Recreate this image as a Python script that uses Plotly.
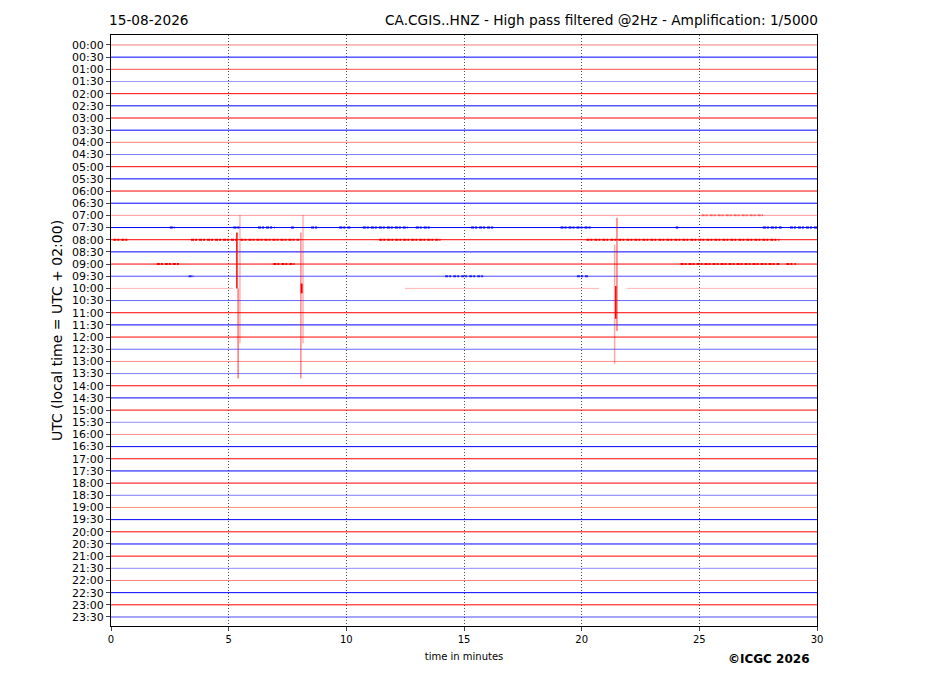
import plotly.graph_objects as go

# etiquetes de files (cada fila = 30 minuts)
row_labels = ['00:00', '00:30', '01:00', '01:30', '02:00', '02:30', '03:00', '03:30',
              '04:00', '04:30', '05:00', '05:30', '06:00', '06:30', '07:00', '07:30',
              '08:00', '08:30', '09:00', '09:30', '10:00', '10:30', '11:00', '11:30',
              '12:00', '12:30', '13:00', '13:30', '14:00', '14:30', '15:00', '15:30',
              '16:00', '16:30', '17:00', '17:30', '18:00', '18:30', '19:00', '19:30',
              '20:00', '20:30', '21:00', '21:30', '22:00', '22:30', '23:00', '23:30']
# opacitat de cada fila (les més clares tenen menys dades)
row_alpha = [0.5, 1.0, 0.7, 0.4, 1.0, 1.0, 1.0, 1.0,
             0.5, 0.5, 1.0, 1.0, 1.0, 1.0, 0.4, 1.0,
             1.0, 1.0, 1.0, 0.7, 0.3, 0.6, 1.0, 1.0,
             1.0, 0.6, 0.45, 0.5, 1.0, 1.0, 1.0, 0.45,
             0.45, 1.0, 1.0, 1.0, 1.0, 0.5, 0.45, 1.0,
             1.0, 1.0, 1.0, 0.45, 0.5, 1.0, 1.0, 0.7]

# forats sense dades (fila, minut inici, minut final)
gap_row = [20, 20]
gap_from = [5.18, 20.74]
gap_to = [12.49, 21.93]

# trams amb soroll (fila, minut inici, minut final)
burst_row = [14, 15, 15, 15, 15, 15, 15, 15, 15, 15, 15, 15, 15, 15,
             16, 16, 16, 16, 16, 18, 18, 18, 18, 19, 19, 19]
burst_from = [25.1, 2.5, 5.2, 6.25, 7.65, 8.5, 9.7, 10.7, 12.95, 15.3, 19.1, 24.0, 27.7, 28.85,
              0.1, 3.4, 5.5, 11.4, 20.2, 1.95, 6.9, 24.2, 28.7, 3.3, 14.2, 19.8]
burst_to = [27.7, 2.7, 5.5, 6.95, 7.8, 8.8, 10.2, 12.6, 13.6, 16.3, 20.4, 24.1, 28.5, 30.0,
            0.7, 5.35, 8.0, 14.0, 28.4, 2.9, 7.8, 28.4, 29.1, 3.5, 15.9, 20.3]

# senyals del terratrèmol (minut, fila superior, fila inferior, gruix, opacitat)
spike_min = [5.48, 5.35, 5.40, 8.16, 8.07, 8.10, 21.50, 21.40, 21.45]
spike_top = [13.97, 15.4, 20.0, 13.97, 15.4, 19.6, 14.2, 16.4, 19.8]
spike_bot = [24.5, 20.0, 27.4, 24.5, 27.4, 20.4, 23.5, 26.2, 22.5]
spike_w = [1.5, 1.5, 1, 1.5, 1, 2, 1, 1.5, 1.5]
spike_a = [0.3, 1.0, 0.8, 0.3, 0.7, 1.0, 0.8, 0.35, 1.0]

fig = go.Figure()

for i, lab in enumerate(row_labels):
    rgb = '255,0,0' if i % 2 == 0 else '0,0,255'
    col = 'rgba(%s,%s)' % (rgb, row_alpha[i])
    xs = [0]
    ys = [i]
    for r, a, b in zip(gap_row, gap_from, gap_to):
        if r == i:
            xs += [a, None, b]
            ys += [i, None, i]
    xs.append(30)
    ys.append(i)
    fig.add_trace(go.Scatter(x=xs, y=ys, mode='lines', line=dict(color=col, width=1),
                             hoverinfo='skip', showlegend=False))

for i, a, b in zip(burst_row, burst_from, burst_to):
    rgb = '255,0,0' if i % 2 == 0 else '0,0,255'
    col = 'rgba(%s,%s)' % (rgb, min(1.0, row_alpha[i] + 0.1))
    fig.add_trace(go.Scatter(x=[a, b], y=[i, i], mode='lines',
                             line=dict(color=col, width=2, dash='3px,1px,2px,2px'),
                             hoverinfo='skip', showlegend=False))

for m, t, b, w, a in zip(spike_min, spike_top, spike_bot, spike_w, spike_a):
    fig.add_trace(go.Scatter(x=[m, m], y=[t, b], mode='lines',
                             line=dict(color='rgba(255,0,0,%s)' % a, width=w),
                             hoverinfo='skip', showlegend=False))

fig.update_layout(
    width=911, height=680,
    margin=dict(l=103, r=102, t=27, b=62),
    plot_bgcolor='white', paper_bgcolor='white',
    font=dict(family='DejaVu Sans', color='black'),
    annotations=[
        dict(text='15-08-2026', x=0, xanchor='left', xshift=-4, y=1, yanchor='bottom', yshift=5,
             xref='paper', yref='paper', showarrow=False, font=dict(size=13.7)),
        dict(text='CA.CGIS..HNZ - High pass filtered @2Hz - Amplification: 1/5000', x=1,
             xanchor='right', xshift=3, y=1, yanchor='bottom', yshift=5,
             xref='paper', yref='paper', showarrow=False, font=dict(size=13.7)),
        dict(text='<b>©ICGC 2026</b>', x=1, xanchor='right', xshift=-5, y=0, yanchor='middle',
             yshift=-33, xref='paper', yref='paper', showarrow=False, font=dict(size=12)),
    ],
)
fig.update_xaxes(range=[0, 30], tickvals=[0, 5, 10, 15, 20, 25, 30], ticks='outside',
                 ticklen=4, tickfont=dict(size=10), showgrid=True, gridcolor='rgba(0,0,0,0.7)',
                 griddash='1px,2px', gridwidth=0.8, zeroline=False, showline=True,
                 linecolor='black', linewidth=1.2, mirror=True,
                 title=dict(text='time in minutes', font=dict(size=10), standoff=8))
fig.update_yaxes(range=[47.74, -0.82], tickvals=list(range(len(row_labels))),
                 ticktext=row_labels, ticks='outside', ticklen=4, tickfont=dict(size=11),
                 showgrid=False, zeroline=False, showline=True, linecolor='black',
                 linewidth=1.2, mirror=True,
                 title=dict(text='UTC (local time = UTC + 02:00)', font=dict(size=14), standoff=6))

fig.write_html("out.html")
